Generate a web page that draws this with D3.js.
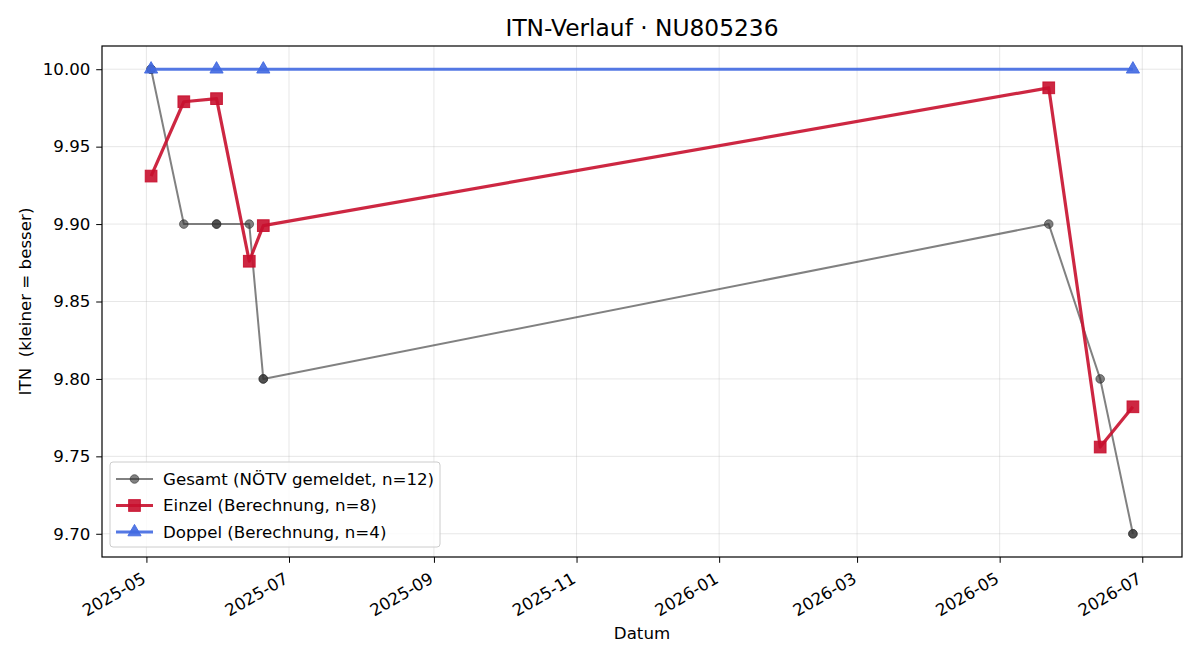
<!DOCTYPE html>
<html>
<head>
<meta charset="utf-8">
<script src="https://cdn.jsdelivr.net/npm/d3@7"></script>
<style>
  body { margin: 0; background: #fff; }
  svg text { font-family: "DejaVu Sans", sans-serif; fill: #000; }
</style>
</head>
<body>
<div id="chart"></div>
<script>
// data
const gesamtDates = ["2025-05-03", "2025-05-03", "2025-05-17", "2025-05-31", "2025-05-31", "2025-06-14",
                     "2025-06-20", "2025-06-20", "2026-05-22", "2026-06-13", "2026-06-27", "2026-06-27"];
const gesamtValues = [10.0, 10.0, 9.9, 9.9, 9.9, 9.9, 9.8, 9.8, 9.9, 9.8, 9.7, 9.7];

const einzelDates = ["2025-05-03", "2025-05-17", "2025-05-31", "2025-06-14", "2025-06-20",
                     "2026-05-22", "2026-06-13", "2026-06-27"];
const einzelValues = [9.931, 9.979, 9.981, 9.876, 9.899, 9.988, 9.756, 9.782];

const doppelDates = ["2025-05-03", "2025-05-31", "2025-06-20", "2026-06-27"];
const doppelValues = [10.0, 10.0, 10.0, 10.0];

const yTicks = [9.70, 9.75, 9.80, 9.85, 9.90, 9.95, 10.00];
const seriesNames = ["Gesamt (NÖTV gemeldet, n=12)", "Einzel (Berechnung, n=8)", "Doppel (Berechnung, n=4)"];

const parse = d3.timeParse("%Y-%m-%d");
const zip = (ds, vs) => ds.map((d, i) => ({date: parse(d), value: vs[i]}));

const series = [
    {name: seriesNames[0], data: zip(gesamtDates, gesamtValues), color: "#333333", opacity: 0.62, width: 2, marker: "circle", size: 8.6},
    {name: seriesNames[1], data: zip(einzelDates, einzelValues), color: "#C8102E", opacity: 0.9, width: 3.2, marker: "square", size: 11.7},
    {name: seriesNames[2], data: zip(doppelDates, doppelValues), color: "royalblue", opacity: 0.9, width: 3.2, marker: "triangle", size: 11.7}
];

const width = 1200, height = 660;
const plotL = 102, plotR = 1182, plotT = 46, plotB = 557;
const fs = "16.67px";

const svg = d3.select("#chart").append("svg")
    .attr("width", width)
    .attr("height", height);

// matplotlib-style 5% margins
const allDates = series.flatMap(s => s.data.map(d => d.date));
const [d0, d1] = d3.extent(allDates);
const pad = (d1 - d0) * 0.05;
const x = d3.scaleTime()
    .domain([new Date(+d0 - pad), new Date(+d1 + pad)])
    .range([plotL, plotR]);

const y = d3.scaleLinear()
    .domain([9.7 - 0.015, 10.0 + 0.015])
    .range([plotB, plotT]);

// grid
const xTickVals = d3.timeMonth.every(2).range(d3.timeMonth.ceil(x.domain()[0]), x.domain()[1]);
svg.append("g").selectAll("line")
    .data(xTickVals)
    .enter().append("line")
    .attr("x1", d => x(d)).attr("x2", d => x(d))
    .attr("y1", plotT).attr("y2", plotB)
    .attr("stroke", "#b0b0b0").attr("stroke-opacity", 0.3).attr("stroke-width", 1);
svg.append("g").selectAll("line")
    .data(yTicks)
    .enter().append("line")
    .attr("x1", plotL).attr("x2", plotR)
    .attr("y1", d => y(d)).attr("y2", d => y(d))
    .attr("stroke", "#b0b0b0").attr("stroke-opacity", 0.3).attr("stroke-width", 1);

// axes
const xAxis = svg.append("g")
    .attr("transform", "translate(0," + plotB + ")")
    .call(d3.axisBottom(x).tickValues(xTickVals).tickFormat(d3.timeFormat("%Y-%m")).tickSize(5.8).tickPadding(4));
xAxis.select(".domain").remove();
xAxis.selectAll("text")
    .style("font-size", fs)
    .attr("text-anchor", "end")
    .attr("x", 0)
    .attr("y", 25)
    .attr("dy", null)
    .attr("transform", "rotate(-30,0,25)");

const yAxis = svg.append("g")
    .attr("transform", "translate(" + plotL + ",0)")
    .call(d3.axisLeft(y).tickValues(yTicks).tickFormat(d3.format(".2f")).tickSize(5.8).tickPadding(5.8));
yAxis.select(".domain").remove();
yAxis.selectAll("text").style("font-size", fs);
svg.selectAll(".tick line").attr("stroke", "#000").attr("stroke-width", 1);

// lines and markers
const line = d3.line().x(d => x(d.date)).y(d => y(d.value));

function drawMarker(g, type, size) {
    if (type === "circle") {
        return g.append("circle").attr("r", size / 2);
    }
    if (type === "square") {
        return g.append("rect")
            .attr("x", -size / 2).attr("y", -size / 2)
            .attr("width", size).attr("height", size);
    }
    const s = d3.symbol().type(d3.symbolTriangle).size(size * size * 0.55);
    return g.append("path").attr("d", s);
}

series.forEach(s => {
    svg.append("path")
        .datum(s.data)
        .attr("d", line)
        .attr("fill", "none")
        .attr("stroke", s.color)
        .attr("stroke-opacity", s.opacity)
        .attr("stroke-width", s.width)
        .attr("stroke-linejoin", "round");

    s.data.forEach(d => {
        const g = svg.append("g")
            .attr("transform", "translate(" + x(d.date) + "," + y(d.value) + ")");
        drawMarker(g, s.marker, s.size)
            .attr("fill", s.color)
            .attr("fill-opacity", s.opacity)
            .attr("stroke", s.color)
            .attr("stroke-opacity", s.opacity)
            .attr("stroke-width", 1);
    });
});

// frame
svg.append("rect")
    .attr("x", plotL).attr("y", plotT)
    .attr("width", plotR - plotL).attr("height", plotB - plotT)
    .attr("fill", "none").attr("stroke", "#000").attr("stroke-width", 1.2);

// title + labels
svg.append("text")
    .attr("x", (plotL + plotR) / 2).attr("y", 36)
    .attr("text-anchor", "middle")
    .style("font-size", "23.3px")
    .text("ITN-Verlauf · NU805236");

svg.append("text")
    .attr("x", (plotL + plotR) / 2).attr("y", 639)
    .attr("text-anchor", "middle")
    .style("font-size", fs)
    .text("Datum");

svg.append("text")
    .attr("transform", "translate(31," + (plotT + plotB) / 2 + ")rotate(-90)")
    .attr("text-anchor", "middle")
    .style("font-size", fs)
    .style("white-space", "pre")
    .text("ITN  (kleiner = besser)");

// legend
const legend = svg.append("g").attr("transform", "translate(110,462)");
legend.append("rect")
    .attr("width", 330).attr("height", 85)
    .attr("rx", 3)
    .attr("fill", "#fff").attr("fill-opacity", 0.8)
    .attr("stroke", "#cccccc").attr("stroke-width", 1);

series.forEach((s, i) => {
    const row = legend.append("g").attr("transform", "translate(0," + (17 + i * 26.5) + ")");
    row.append("line")
        .attr("x1", 6).attr("x2", 43)
        .attr("stroke", s.color).attr("stroke-opacity", s.opacity)
        .attr("stroke-width", s.width);
    const m = row.append("g").attr("transform", "translate(24.5,0)");
    drawMarker(m, s.marker, s.size)
        .attr("fill", s.color).attr("fill-opacity", s.opacity)
        .attr("stroke", s.color).attr("stroke-opacity", s.opacity).attr("stroke-width", 1);
    row.append("text")
        .attr("x", 53).attr("y", 0).attr("dy", "0.35em")
        .style("font-size", fs)
        .text(s.name);
});
</script>
</body>
</html>
